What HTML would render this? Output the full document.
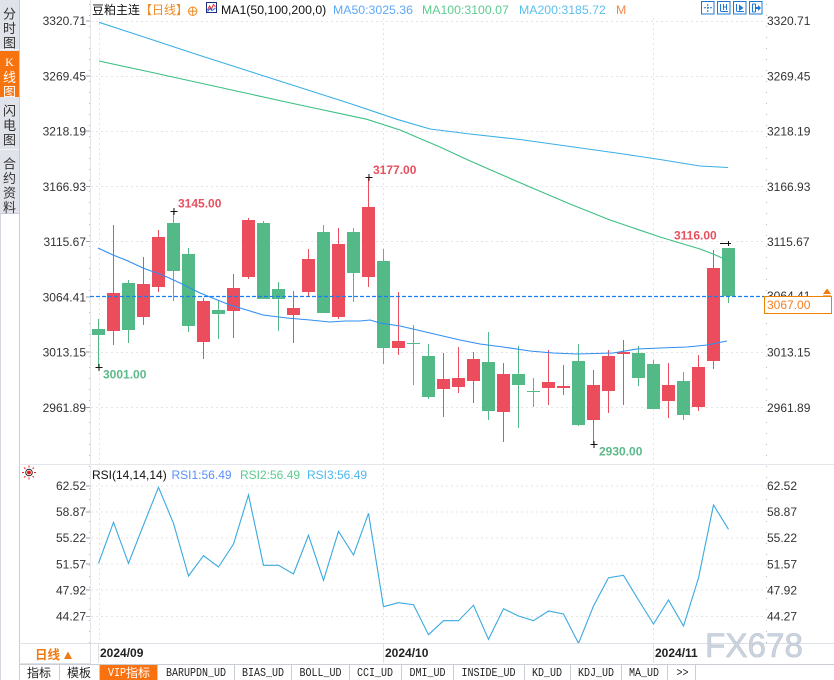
<!DOCTYPE html>
<html><head><meta charset="utf-8"><style>
html,body{margin:0;padding:0;background:#fff;}
body{width:834px;height:680px;overflow:hidden;position:relative;}
svg{position:absolute;left:0;top:0;display:block;}
</style></head><body>
<svg width="834" height="680" viewBox="0 0 834 680" xmlns="http://www.w3.org/2000/svg" font-family="'Liberation Sans','Noto Sans CJK SC',sans-serif">
<!-- sidebar -->
<rect x="0" y="0" width="19" height="213" fill="#e1e3ea"/>
<rect x="0" y="51" width="19" height="46" fill="#f7730e"/>
<line x1="0" y1="49.5" x2="19" y2="49.5" stroke="#f3f4f7"/>
<line x1="0" y1="149.5" x2="19" y2="149.5" stroke="#f3f4f7"/>
<line x1="0.5" y1="213" x2="0.5" y2="680" stroke="#d5d9e0"/>
<line x1="19.5" y1="0" x2="19.5" y2="680" stroke="#c8ccd6"/>
<line x1="0" y1="213.5" x2="19" y2="213.5" stroke="#c8ccd6"/>
<g font-size="13" fill="#333" text-anchor="middle" font-family="'Noto Sans CJK SC',sans-serif" dominant-baseline="central">
<text x="9.5" y="13">分</text><text x="9.5" y="27.5">时</text><text x="9.5" y="42">图</text>
<text x="9.5" y="62" fill="#fff" font-family="'Liberation Serif',serif" font-size="12">K</text><text x="9.5" y="76.5" fill="#fff">线</text><text x="9.5" y="91" fill="#fff">图</text>
<text x="9.5" y="110">闪</text><text x="9.5" y="124.5">电</text><text x="9.5" y="139">图</text>
<text x="9.5" y="163">合</text><text x="9.5" y="177.5">约</text><text x="9.5" y="192">资</text><text x="9.5" y="206.5">料</text>
</g>

<!-- grid -->
<g stroke="#e4e4e4" stroke-dasharray="2 3" fill="none">
<line x1="91" y1="21.5" x2="766" y2="21.5"/>
<line x1="91" y1="76.5" x2="766" y2="76.5"/>
<line x1="91" y1="131.5" x2="766" y2="131.5"/>
<line x1="91" y1="186.5" x2="766" y2="186.5"/>
<line x1="91" y1="241.5" x2="766" y2="241.5"/>
<line x1="91" y1="352.5" x2="766" y2="352.5"/>
<line x1="91" y1="407.5" x2="766" y2="407.5"/>
<line x1="91" y1="486" x2="766" y2="486"/>
<line x1="91" y1="512" x2="766" y2="512"/>
<line x1="91" y1="538" x2="766" y2="538"/>
<line x1="91" y1="564" x2="766" y2="564"/>
<line x1="91" y1="590" x2="766" y2="590"/>
<line x1="91" y1="616.5" x2="766" y2="616.5"/>
<line x1="99.5" y1="18" x2="99.5" y2="643"/>
<line x1="383.5" y1="18" x2="383.5" y2="643"/>
<line x1="653.5" y1="18" x2="653.5" y2="643"/>
</g>
<!-- axes -->
<line x1="90.5" y1="0" x2="90.5" y2="643" stroke="#e2e5ea"/>
<line x1="89.5" y1="4" x2="89.5" y2="643" stroke="#b8bcc4" stroke-dasharray="1 10"/>
<line x1="766.5" y1="4" x2="766.5" y2="643" stroke="#b8bcc4" stroke-dasharray="1 10"/>
<line x1="19" y1="464.5" x2="834" y2="464.5" stroke="#e3e7ec"/>
<g stroke="#9aa0a8">
<line x1="86" y1="21" x2="90" y2="21"/><line x1="86" y1="76" x2="90" y2="76"/><line x1="86" y1="131" x2="90" y2="131"/><line x1="86" y1="186.5" x2="90" y2="186.5"/><line x1="86" y1="241.5" x2="90" y2="241.5"/><line x1="86" y1="297" x2="90" y2="297"/><line x1="86" y1="352" x2="90" y2="352"/><line x1="86" y1="407.5" x2="90" y2="407.5"/>
<line x1="86" y1="486" x2="90" y2="486"/><line x1="86" y1="512" x2="90" y2="512"/><line x1="86" y1="538" x2="90" y2="538"/><line x1="86" y1="564" x2="90" y2="564"/><line x1="86" y1="590" x2="90" y2="590"/><line x1="86" y1="616.5" x2="90" y2="616.5"/>
</g>

<!-- axis labels -->
<g font-size="12" fill="#333">
<g text-anchor="end">
<text x="86" y="25">3320.71</text><text x="86" y="80.3">3269.45</text><text x="86" y="135.5">3218.19</text><text x="86" y="190.8">3166.93</text><text x="86" y="246">3115.67</text><text x="86" y="301.3">3064.41</text><text x="86" y="356.5">3013.15</text><text x="86" y="411.8">2961.89</text>
<text x="86" y="490">62.52</text><text x="86" y="516.1">58.87</text><text x="86" y="542.2">55.22</text><text x="86" y="568.3">51.57</text><text x="86" y="594.4">47.92</text><text x="86" y="620.5">44.27</text>
</g>
<text x="767" y="25">3320.71</text><text x="767" y="80.3">3269.45</text><text x="767" y="135.5">3218.19</text><text x="767" y="190.8">3166.93</text><text x="767" y="246">3115.67</text><text x="767" y="300">3064.41</text><text x="767" y="356.5">3013.15</text><text x="767" y="411.8">2961.89</text>
<text x="767" y="490">62.52</text><text x="767" y="516.1">58.87</text><text x="767" y="542.2">55.22</text><text x="767" y="568.3">51.57</text><text x="767" y="594.4">47.92</text><text x="767" y="620.5">44.27</text>
</g>

<!-- candles -->
<g shape-rendering="crispEdges">
<g fill="#52b987">
<rect x="98" y="319" width="1" height="48"/><rect x="92" y="329" width="13" height="6"/>
<rect x="128" y="280" width="1" height="63"/><rect x="122" y="283" width="13" height="47"/>
<rect x="173" y="211" width="1" height="90"/><rect x="167" y="223" width="13" height="48"/>
<rect x="188" y="248" width="1" height="84"/><rect x="182" y="254" width="13" height="72"/>
<rect x="218" y="300" width="1" height="39"/><rect x="212" y="310" width="13" height="4"/>
<rect x="263" y="221" width="1" height="78"/><rect x="257" y="223" width="13" height="76"/>
<rect x="278" y="282" width="1" height="49"/><rect x="272" y="289" width="13" height="10"/>
<rect x="323" y="225" width="1" height="88"/><rect x="317" y="232" width="13" height="81"/>
<rect x="353" y="228" width="1" height="74"/><rect x="347" y="232" width="13" height="41"/>
<rect x="383" y="249" width="1" height="115"/><rect x="377" y="261" width="13" height="87"/>
<rect x="413" y="325" width="1" height="60"/><rect x="407" y="343" width="13" height="1"/>
<rect x="428" y="344" width="1" height="55"/><rect x="422" y="356" width="13" height="41"/>
<rect x="488" y="332" width="1" height="88"/><rect x="482" y="362" width="13" height="49"/>
<rect x="518" y="346" width="1" height="82"/><rect x="512" y="374" width="13" height="11"/>
<rect x="533" y="378" width="1" height="29"/><rect x="527" y="391" width="13" height="1"/>
<rect x="578" y="344" width="1" height="82"/><rect x="572" y="361" width="13" height="64"/>
<rect x="638" y="346" width="1" height="40"/><rect x="632" y="353" width="13" height="25"/>
<rect x="653" y="360" width="1" height="49"/><rect x="647" y="364" width="13" height="45"/>
<rect x="683" y="372" width="1" height="48"/><rect x="677" y="381" width="13" height="34"/>
<rect x="728" y="248" width="1" height="55"/><rect x="722" y="248" width="13" height="48"/>
</g>
<g fill="#eb4d5c">
<rect x="113" y="225" width="1" height="120"/><rect x="107" y="293" width="13" height="38"/>
<rect x="143" y="257" width="1" height="68"/><rect x="137" y="284" width="13" height="33"/>
<rect x="158" y="230" width="1" height="62"/><rect x="152" y="237" width="13" height="50"/>
<rect x="203" y="298" width="1" height="61"/><rect x="197" y="301" width="13" height="41"/>
<rect x="233" y="274" width="1" height="64"/><rect x="227" y="288" width="13" height="23"/>
<rect x="248" y="218" width="1" height="61"/><rect x="242" y="220" width="13" height="57"/>
<rect x="293" y="291" width="1" height="52"/><rect x="287" y="308" width="13" height="7"/>
<rect x="308" y="249" width="1" height="48"/><rect x="302" y="259" width="13" height="33"/>
<rect x="338" y="228" width="1" height="91"/><rect x="332" y="244" width="13" height="73"/>
<rect x="368" y="177" width="1" height="110"/><rect x="362" y="207" width="13" height="70"/>
<rect x="398" y="292" width="1" height="63"/><rect x="392" y="341" width="13" height="7"/>
<rect x="443" y="353" width="1" height="64"/><rect x="437" y="379" width="13" height="10"/>
<rect x="458" y="347" width="1" height="46"/><rect x="452" y="378" width="13" height="9"/>
<rect x="473" y="352" width="1" height="51"/><rect x="467" y="359" width="13" height="22"/>
<rect x="503" y="363" width="1" height="79"/><rect x="497" y="374" width="13" height="38"/>
<rect x="548" y="350" width="1" height="55"/><rect x="542" y="382" width="13" height="6"/>
<rect x="563" y="365" width="1" height="30"/><rect x="557" y="386" width="13" height="2"/>
<rect x="593" y="370" width="1" height="74"/><rect x="587" y="385" width="13" height="35"/>
<rect x="608" y="350" width="1" height="63"/><rect x="602" y="356" width="13" height="35"/>
<rect x="623" y="340" width="1" height="65"/><rect x="617" y="352" width="13" height="2"/>
<rect x="668" y="363" width="1" height="55"/><rect x="662" y="385" width="13" height="16"/>
<rect x="698" y="355" width="1" height="56"/><rect x="692" y="367" width="13" height="40"/>
<rect x="713" y="250" width="1" height="119"/><rect x="707" y="268" width="13" height="93"/>
</g>
</g>

<!-- MAs -->
<g fill="none" stroke-width="1.1">
<polyline stroke="#3bb0e6" points="99,22.3 150,39 200,55.5 250,71.5 300,87.5 350,103.5 397,119.3 430,129 470,134 520,139.5 570,146.5 620,153.5 660,159.5 700,166 728,167.5"/>
<polyline stroke="#3dbf82" points="99,61 150,72 200,83 250,94 300,105 367,119.3 400,130 440,147 468,160 500,174 530,187 570,204 610,220 660,237 700,249 713,254 727,260"/>
<polyline stroke="#2f8ef4" points="98,248 113,255 128,261 143,268 158,273.5 167,277 180,283 190,288 200,293 210,297 230,305 250,311 263,315 287,318 310,320 330,322 345,321 360,321 370,320 380,323 400,326 430,333 460,340 480,344 503,347 530,351 553,353 577,354 613,353 637,349 660,348 687,347 707,345 727,341"/>
</g>
<line x1="90" y1="296.5" x2="764" y2="296.5" stroke="#1a7ff0" stroke-width="1.2" stroke-dasharray="4 2"/>

<!-- markers -->
<g stroke="#111" stroke-width="1">
<line x1="95.5" y1="367.5" x2="102.5" y2="367.5"/><line x1="99" y1="364" x2="99" y2="371"/>
<line x1="170.5" y1="211.5" x2="177.5" y2="211.5"/><line x1="174" y1="208" x2="174" y2="215"/>
<line x1="365.5" y1="177.5" x2="372.5" y2="177.5"/><line x1="369" y1="174" x2="369" y2="181"/>
<line x1="590.5" y1="444.5" x2="597.5" y2="444.5"/><line x1="594" y1="441" x2="594" y2="448"/>
<line x1="720" y1="243.5" x2="731" y2="243.5"/><line x1="728.5" y1="241" x2="728.5" y2="246"/>
</g>
<g font-size="12" font-weight="bold">
<text x="103" y="378.7" fill="#5cb98a">3001.00</text>
<text x="178" y="207.7" fill="#e8505e">3145.00</text>
<text x="373" y="174" fill="#e8505e">3177.00</text>
<text x="599" y="455.5" fill="#5cb98a">2930.00</text>
<text x="674" y="239.5" fill="#e8505e">3116.00</text>
</g>

<!-- current price box -->
<rect x="764.5" y="296.5" width="67" height="17" fill="#fff" stroke="#f08000"/>
<text x="767" y="309" font-size="12" fill="#f57e20">3067.00</text>
<path d="M823,294 L827,288.5 L831,294 Z" fill="#f07a10"/><line x1="823" y1="296" x2="831" y2="296" stroke="#f07a10" stroke-width="1.2"/>

<!-- header -->
<g font-size="12.3">
<text x="92" y="14" fill="#111" font-size="12" font-family="'Noto Sans CJK SC',sans-serif">豆粕主连</text>
<text x="140" y="14" fill="#f08a24" font-size="12" font-family="'Noto Sans CJK SC',sans-serif">【日线】</text>
<circle cx="192.7" cy="11.2" r="4.2" fill="none" stroke="#f08a24"/>
<line x1="188" y1="11.2" x2="197.4" y2="11.2" stroke="#f08a24"/><line x1="192.7" y1="6.5" x2="192.7" y2="15.9" stroke="#f08a24"/>
<rect x="206.5" y="2.5" width="10" height="10" fill="#fff" stroke="#1c2f7a"/>
<polyline points="207.5,10 209.5,6 211.5,9 213.5,4.5 215.5,7" fill="none" stroke="#e23030"/>
<polyline points="207.5,11.5 210,8.5 212,10.5 215.5,8" fill="none" stroke="#2060d0"/>
<text x="221" y="14" fill="#111">MA1(50,100,200,0)</text>
<text x="333" y="14" fill="#5fa8f8">MA50:3025.36</text>
<text x="422" y="14" fill="#5ccb8f">MA100:3100.07</text>
<text x="519" y="14" fill="#5cbfee">MA200:3185.72</text>
<text x="616" y="14" fill="#f5884a">M</text>
</g>
<!-- top right icons -->
<g fill="none" stroke="#1f78d1">
<rect x="701.5" y="1.5" width="12.5" height="12.5" fill="#fff"/>
<rect x="717.5" y="1.5" width="12.5" height="12.5" fill="#fff"/>
<rect x="733.5" y="1.5" width="12.5" height="12.5" fill="#fff"/>
<rect x="749.5" y="1.5" width="12.5" height="12.5" fill="#fff"/>
<line x1="707.75" y1="4" x2="707.75" y2="12" stroke-dasharray="2 1"/><line x1="704" y1="7.75" x2="712" y2="7.75" stroke-dasharray="2 1"/>
<line x1="720.5" y1="4" x2="720.5" y2="11"/><line x1="720.5" y1="11.5" x2="728" y2="11.5"/><line x1="723.5" y1="4" x2="723.5" y2="10"/><line x1="726.5" y1="4" x2="726.5" y2="10"/><line x1="723.5" y1="7" x2="726.5" y2="7"/>
<line x1="736.5" y1="4" x2="736.5" y2="11"/><line x1="736.5" y1="11.5" x2="744" y2="11.5"/>
<line x1="752.5" y1="4" x2="752.5" y2="12"/><line x1="752.5" y1="4" x2="755.5" y2="4"/><line x1="752.5" y1="12" x2="755.5" y2="12"/><line x1="755.5" y1="4" x2="755.5" y2="12"/>
</g>
<path d="M739,4.5 L743.5,8 L739,11 Z" fill="#1f78d1"/>
<path d="M756,7 L758,7 L758,5 L761,8 L758,11 L758,9 L756,9 Z" fill="#1f78d1"/>

<!-- RSI -->
<g transform="translate(29,472.5)">
<g stroke="#e22" stroke-width="1">
<line x1="0" y1="-7" x2="0" y2="-5"/><line x1="0" y1="5" x2="0" y2="7"/><line x1="-7" y1="0" x2="-5" y2="0"/><line x1="5" y1="0" x2="7" y2="0"/>
<line x1="-5" y1="-5" x2="-3.6" y2="-3.6"/><line x1="5" y1="5" x2="3.6" y2="3.6"/><line x1="-5" y1="5" x2="-3.6" y2="3.6"/><line x1="5" y1="-5" x2="3.6" y2="-3.6"/>
</g>
<circle r="3.3" fill="none" stroke="#222"/><circle r="1.9" fill="#e01010"/>
</g>
<g font-size="12">
<text x="92" y="479" fill="#111">RSI(14,14,14)</text>
<text x="171.5" y="479" fill="#5b8ff9">RSI1:56.49</text>
<text x="240" y="479" fill="#5ccb8f">RSI2:56.49</text>
<text x="307" y="479" fill="#4cb8ec">RSI3:56.49</text>
</g>
<polyline fill="none" stroke="#3aa9e0" stroke-width="1.1" points="98.5,563.3 113.5,522.3 128.5,563.3 143.5,525 158.5,487.3 173.5,523.3 188.5,576 203.5,555.7 218.5,567 233.5,544 248.5,495 263.5,565.3 278.5,565.3 293.5,574 308.5,535.3 323.5,580.3 338.5,531.3 353.5,555 368.5,513.3 383.5,606.7 398.5,602.7 413.5,604.7 428.5,634.7 443.5,620.7 458.5,620.7 473.5,605.3 488.5,639.3 503.5,608.7 518.5,616 533.5,620.7 548.5,611 563.5,614 578.5,643.3 593.5,606 608.5,577.7 623.5,575.3 638.5,600 653.5,624 668.5,600 683.5,626 698.5,578 713.5,505 728.5,529.3"/>

<!-- date axis -->
<rect x="20" y="644" width="814" height="20" fill="#fff"/>
<line x1="19" y1="643.5" x2="834" y2="643.5" stroke="#dde1e7"/>
<line x1="90.5" y1="643" x2="90.5" y2="664" stroke="#dde1e7"/>
<line x1="19" y1="663.5" x2="90" y2="663.5" stroke="#dde1e7"/>
<g stroke="#e0e2e6"><line x1="98.5" y1="644" x2="98.5" y2="663"/><line x1="383.5" y1="644" x2="383.5" y2="663"/><line x1="653.5" y1="644" x2="653.5" y2="663"/></g>
<text x="35" y="659" font-size="12.5" font-weight="bold" fill="#f07a10" font-family="'Noto Sans CJK SC',sans-serif">日线</text>
<path d="M64,659 L68,651.5 L72,659 Z" fill="#f07a10"/>
<g font-size="12" font-weight="bold" fill="#222">
<text x="100" y="657">2024/09</text>
<text x="385" y="657">2024/10</text>
<text x="655" y="657">2024/11</text>
</g>
<!-- watermark -->
<text x="705" y="657" font-size="34" fill="#cbd3de" stroke="#bcc5d2" stroke-width="0.6" textLength="98" lengthAdjust="spacingAndGlyphs">FX678</text>

<!-- tabs -->
<line x1="19" y1="664.5" x2="834" y2="664.5" stroke="#c9cdd4"/>
<rect x="100" y="665" width="57" height="15" fill="#fa7210"/>
<g stroke="#c9cdd4">
<line x1="59.5" y1="665" x2="59.5" y2="680"/><line x1="99.5" y1="665" x2="99.5" y2="680"/><line x1="157.5" y1="665" x2="157.5" y2="680"/><line x1="234.5" y1="665" x2="234.5" y2="680"/><line x1="291.5" y1="665" x2="291.5" y2="680"/><line x1="349.5" y1="665" x2="349.5" y2="680"/><line x1="401.5" y1="665" x2="401.5" y2="680"/><line x1="453.5" y1="665" x2="453.5" y2="680"/><line x1="524.5" y1="665" x2="524.5" y2="680"/><line x1="570.5" y1="665" x2="570.5" y2="680"/><line x1="621.5" y1="665" x2="621.5" y2="680"/><line x1="667.5" y1="665" x2="667.5" y2="680"/><line x1="695.5" y1="665" x2="695.5" y2="680"/>
</g>
<g font-size="12" fill="#222" font-family="'Noto Sans CJK SC',sans-serif">
<text x="27" y="677">指标</text><text x="67" y="677">模板</text>
<text x="126" y="677" fill="#fff">指标</text>
</g>
<g font-size="12" fill="#222" font-family="'Liberation Mono',monospace" lengthAdjust="spacingAndGlyphs">
<text x="108" y="676" fill="#fff" textLength="18" lengthAdjust="spacingAndGlyphs">VIP</text>
<text x="166" y="676" textLength="60" lengthAdjust="spacingAndGlyphs">BARUPDN_UD</text>
<text x="242" y="676" textLength="42" lengthAdjust="spacingAndGlyphs">BIAS_UD</text>
<text x="299.5" y="676" textLength="42" lengthAdjust="spacingAndGlyphs">BOLL_UD</text>
<text x="357" y="676" textLength="36" lengthAdjust="spacingAndGlyphs">CCI_UD</text>
<text x="409.5" y="676" textLength="36" lengthAdjust="spacingAndGlyphs">DMI_UD</text>
<text x="461.5" y="676" textLength="54" lengthAdjust="spacingAndGlyphs">INSIDE_UD</text>
<text x="532" y="676" textLength="30" lengthAdjust="spacingAndGlyphs">KD_UD</text>
<text x="578" y="676" textLength="36" lengthAdjust="spacingAndGlyphs">KDJ_UD</text>
<text x="629" y="676" textLength="30" lengthAdjust="spacingAndGlyphs">MA_UD</text>
<text x="676.5" y="676" textLength="12" lengthAdjust="spacingAndGlyphs">&gt;&gt;</text>
</g>
</svg>
</body></html>
